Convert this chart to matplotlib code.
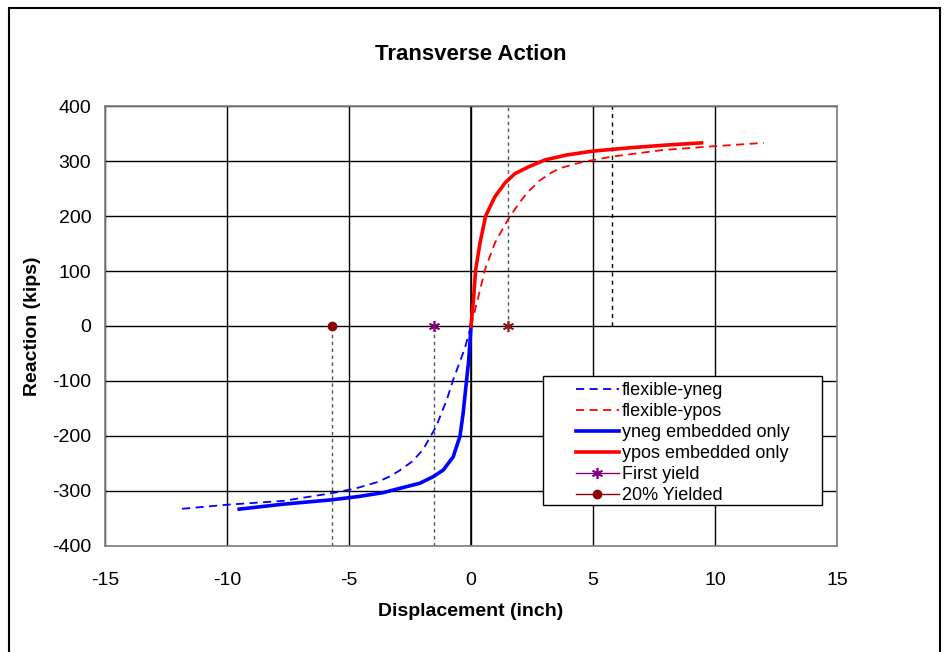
import matplotlib
matplotlib.use("Agg")
import matplotlib.pyplot as plt
from matplotlib.patches import Rectangle

plt.rcParams['font.family'] = ['Liberation Sans', 'DejaVu Sans']
plt.rcParams['axes.unicode_minus'] = False

# ---- data ----
flex_pos_x = [0, 0.27, 0.57, 0.98, 1.52, 2.0, 2.3, 2.8, 3.3, 3.65, 4.55, 5.78, 7.87, 10.0, 12.0]
flex_pos_y = [0, 47, 102, 151, 194, 225, 242, 264, 279, 287, 298, 308, 320, 327, 333]
flex_neg_x = [0, -0.25, -0.73, -1.0, -1.43, -1.97, -2.4, -2.9, -3.3, -3.85, -4.7, -5.7, -7.7, -10.0, -12.0]
flex_neg_y = [0, -40, -98, -135, -183, -225, -246, -262, -273, -284, -295, -304, -318, -325, -333]
emb_pos_x = [0, 0.1, 0.19, 0.37, 0.6, 0.98, 1.39, 1.8, 2.34, 3.03, 3.93, 5.0, 6.5, 8.0, 9.45]
emb_pos_y = [0, 47, 102, 151, 200, 235, 260, 277, 289, 302, 311, 318, 324, 329, 333]
emb_neg_x = [0, -0.05, -0.1, -0.18, -0.32, -0.45, -0.73, -1.14, -1.55, -2.1, -2.9, -3.6, -4.6, -5.7, -7.7, -9.5]
emb_neg_y = [0, -35, -65, -98, -158, -200, -238, -262, -274, -286, -295, -303, -310, -316, -324, -333]
first_yield_x = [-1.5]
first_yield_y = [0]
first_yield2_x = [1.5]
first_yield2_y = [0]
yield20_x = [-5.7]
yield20_y = [0]
vline_neg = [-5.7, -1.5]
vline_pos = [1.5, 5.8]

xticks = [-15, -10, -5, 0, 5, 10, 15]
yticks = [-400, -300, -200, -100, 0, 100, 200, 300, 400]

fig = plt.figure(figsize=(9.47, 6.52), dpi=100)
ax = fig.add_axes([0.1109, 0.1626, 0.7729, 0.6748])

ax.set_xlim(-15, 15)
ax.set_ylim(-400, 400)
ax.set_xticks(xticks)
ax.set_yticks(yticks)
ax.tick_params(length=0, labelsize=14)
ax.tick_params(axis='x', pad=19)
ax.tick_params(axis='y', pad=10)
ax.grid(True, color='black', linewidth=1.0)
ax.set_axisbelow(True)
for s in ax.spines.values():
    s.set_color('#808080')
    s.set_linewidth(1.2)
ax.axvline(0, color='black', linewidth=1.2, zorder=1)

# dashed verticals
ax.vlines(vline_neg, -400, 0, colors='#555555', linestyles=(0, (2.5, 2.5)), linewidth=1.0, zorder=2)
ax.vlines(vline_pos[0], 0, 400, colors='#555555', linestyles=(0, (2.5, 2.5)), linewidth=1.0, zorder=2)
ax.vlines(vline_pos[1], 0, 400, colors='black', linestyles=(0, (3, 3)), linewidth=1.0, zorder=2)

dash = (0, (4.5, 3))
l1, = ax.plot(flex_neg_x, flex_neg_y, color='blue', linestyle=dash, linewidth=1.3, label='flexible-yneg')
l2, = ax.plot(flex_pos_x, flex_pos_y, color='red', linestyle=dash, linewidth=1.3, label='flexible-ypos')
l3, = ax.plot(emb_neg_x, emb_neg_y, color='blue', linewidth=2.6, solid_joinstyle='round', label='yneg embedded only')
l4, = ax.plot(emb_pos_x, emb_pos_y, color='red', linewidth=2.6, solid_joinstyle='round', label='ypos embedded only')
l5, = ax.plot(first_yield_x, first_yield_y, color='purple', marker=(6, 2, 0), markersize=8,
              markeredgewidth=1.2, linewidth=1.0, label='First yield', zorder=5)
ax.plot(first_yield2_x, first_yield2_y, color='#8B1A1A', marker=(6, 2, 0), markersize=8,
        markeredgewidth=1.2, linestyle='none', zorder=5)
l6, = ax.plot(yield20_x, yield20_y, color='#8B0000', marker='o', markersize=6,
              linewidth=1.0, label='20% Yielded', zorder=5)

# legend frame drawn separately, entries centred inside it
box = (0.598, 0.093, 0.382, 0.293)
ax.add_patch(Rectangle((box[0], box[1]), box[2], box[3], transform=ax.transAxes,
                       facecolor='white', edgecolor='black', linewidth=1.0, zorder=6))
leg = ax.legend(handles=[l1, l2, l3, l4, l5, l6], loc='center',
                bbox_to_anchor=(box[0] + box[2] / 2, box[1] + box[3] / 2 - 0.006),
                fontsize=13, frameon=False, borderpad=0.0,
                labelspacing=0.22, handlelength=2.4, handletextpad=0.15,
                borderaxespad=0)
leg.set_zorder(7)

ax.set_title('Transverse Action', fontsize=16, fontweight='bold', pad=33)
ax.set_xlabel('Displacement (inch)', fontsize=14, fontweight='bold', labelpad=10)
ax.set_ylabel('Reaction (kips)', fontsize=14, fontweight='bold', labelpad=8)

fig.patches.append(Rectangle((9/947, -0.02), 931/947, 1.0 - 8/652 + 0.02,
                             transform=fig.transFigure, fill=False,
                             edgecolor='black', linewidth=1.5))

fig.savefig('out.png', dpi=100)
